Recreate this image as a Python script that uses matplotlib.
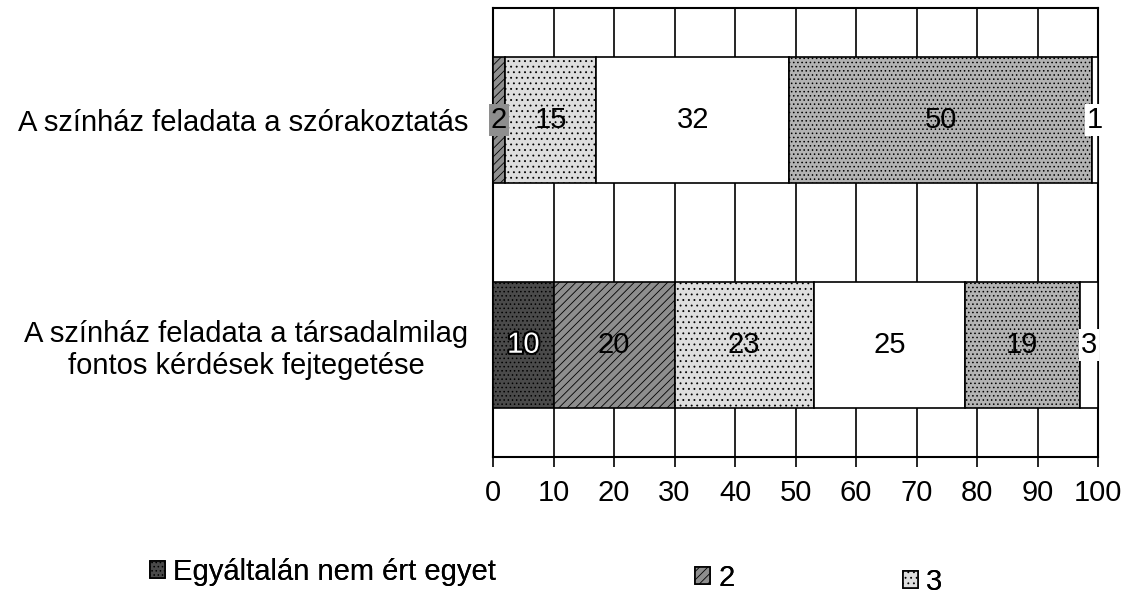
import matplotlib
matplotlib.use('Agg')
import matplotlib.pyplot as plt
import matplotlib.patheffects as pe
import numpy as np

plt.rcParams['font.family'] = ['Liberation Sans', 'DejaVu Sans']
plt.rcParams['hatch.linewidth'] = 0.6

# ---- data ----
categories = ["A színház feladata a társadalmilag\nfontos kérdések fejtegetése",
              "A színház feladata a szórakoztatás"]
series_names = ["Egyáltalán nem ért egyet", "2", "3", "4", "5", "6"]
s1 = [10, 0]
s2 = [20, 2]
s3 = [23, 15]
s4 = [25, 32]
s5 = [19, 50]
s6 = [3, 1]
xticks = list(range(0, 101, 10))

series = [s1, s2, s3, s4, s5, s6]
colors = ['#4a4a4a', '#8e8e8e', '#dedede', '#ffffff', '#b3b3b3', '#ffffff']
hatches = ['....', '////', '...', '', '....', '']
text_colors = ['white', 'black', 'black', 'black', 'black', 'black']
FS = 21

fig = plt.figure(figsize=(11.26, 5.99), dpi=100)
ax = fig.add_axes([493/1126, 1-457/599, (1098-493)/1126, (457-8)/599])

y = np.arange(len(categories))
left = np.zeros(len(categories))
handles = []
for i, vals in enumerate(series):
    vals = np.array(vals, dtype=float)
    bars = ax.barh(y, vals, left=left, height=0.56, color=colors[i],
                   edgecolor='black', linewidth=1.2, hatch=hatches[i], zorder=3)
    handles.append(bars)
    for yy, l, v in zip(y, left, vals):
        if v <= 0:
            continue
        kw = dict(ha='center', va='center', fontsize=FS, color=text_colors[i], zorder=5)
        if text_colors[i] == 'white':
            kw['path_effects'] = [pe.withStroke(linewidth=3, foreground='black')]
        if v < 5:
            kw['bbox'] = dict(facecolor=colors[i], edgecolor='none', pad=1.5)
        ax.text(l + v / 2, yy, f"{int(v)}", **kw)
    left = left + vals

ax.set_xlim(0, 100)
ax.set_ylim(-0.5, 1.5)
ax.set_xticks(xticks)
ax.set_xticklabels([str(t) for t in xticks], fontsize=FS)
ax.set_yticks(y)
ax.set_yticklabels(categories, fontsize=FS, multialignment='center')
ax.tick_params(axis='y', length=0, pad=18)
ax.tick_params(axis='x', direction='out', length=7, width=1.2, pad=9)
ax.xaxis.grid(True, color='black', linewidth=1.2, zorder=0)
ax.set_axisbelow(True)
for sp in ax.spines.values():
    sp.set_color('black')
    sp.set_linewidth(1.5)

# legend (only the first three entries are visible in the reference)
legend_x = [150, 695, 903]
legend_y = [572, 578, 582]
for h, name, lx, ly in zip(handles[:3], series_names[:3], legend_x, legend_y):
    lg = fig.legend([h], [name], loc='center left',
                    bbox_to_anchor=(lx/1126, 1-ly/599), frameon=False, fontsize=FS,
                    handlelength=0.5, handleheight=0.5, handletextpad=0.3,
                    borderaxespad=0, borderpad=0)
    fig.add_artist(lg)

fig.savefig('out.png', dpi=100)
